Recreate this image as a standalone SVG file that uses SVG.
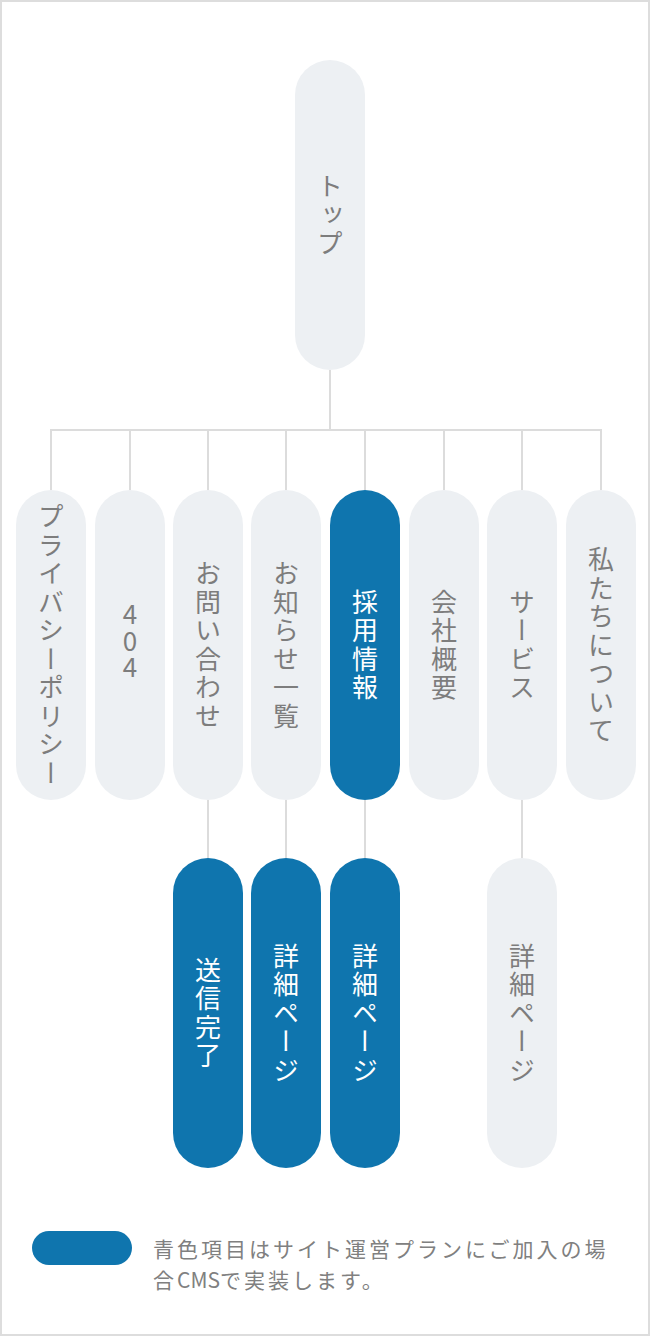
<svg xmlns="http://www.w3.org/2000/svg" width="650" height="1336" viewBox="0 0 650 1336">
<style>
.frame{fill:#fff;stroke:#dddddd;stroke-width:2}
.n{fill:#edf0f3}
.b{fill:#0f75ae}
.t{font-family:"Noto Sans CJK JP","Noto Sans",sans-serif;font-size:26px;letter-spacing:2.5px;writing-mode:vertical-rl;text-orientation:upright;text-anchor:middle;fill:#7d7d7d}
.tw{fill:#ffffff}
.c{stroke:#dcdcdc;stroke-width:2;fill:none}
.lg{font-family:"Noto Sans CJK JP","Noto Sans",sans-serif;font-size:21px;letter-spacing:3px;fill:#808080}
</style>
<rect class="frame" x="1" y="1" width="648" height="1334"/>
<g id="connectors">
<path class="c" d="M330 370V430M51 430H601M51 429V490M130 430V490M208 430V490M286 430V490M365 430V490M444 430V490M522 430V490M601 429V490"/>
<path class="c" d="M208 800V858M286 800V858M365 800V858M522 800V858"/>
</g>
<g id="top"><rect class="n" x="295" y="60" width="70" height="310" rx="35"/><text class="t" x="330" y="216">トップ</text></g>
<g id="privacy"><rect class="n" x="16" y="490" width="70" height="310" rx="35"/><text class="t" x="51" y="646">プライバシーポリシー</text></g>
<g id="p404"><rect class="n" x="95" y="490" width="70" height="310" rx="35"/><text class="t" x="130" y="641" style="letter-spacing:0.5px">404</text></g>
<g id="contact"><rect class="n" x="173" y="490" width="70" height="310" rx="35"/><text class="t" x="208" y="646">お問い合わせ</text></g>
<g id="news"><rect class="n" x="251" y="490" width="70" height="310" rx="35"/><text class="t" x="286" y="646">お知らせ一覧</text></g>
<g id="recruit"><rect class="b" x="330" y="490" width="70" height="310" rx="35"/><text class="t tw" x="365" y="646">採用情報</text></g>
<g id="company"><rect class="n" x="409" y="490" width="70" height="310" rx="35"/><text class="t" x="444" y="646">会社概要</text></g>
<g id="service"><rect class="n" x="487" y="490" width="70" height="310" rx="35"/><text class="t" x="522" y="646">サービス</text></g>
<g id="about"><rect class="n" x="566" y="490" width="70" height="310" rx="35"/><text class="t" x="601" y="646">私たちについて</text></g>
<g id="sent"><rect class="b" x="173" y="858" width="70" height="310" rx="35"/><text class="t tw" x="208" y="1014">送信完了</text></g>
<g id="news-detail"><rect class="b" x="251" y="858" width="70" height="310" rx="35"/><text class="t tw" x="286" y="1014">詳細ページ</text></g>
<g id="recruit-detail"><rect class="b" x="330" y="858" width="70" height="310" rx="35"/><text class="t tw" x="365" y="1014">詳細ページ</text></g>
<g id="service-detail"><rect class="n" x="487" y="858" width="70" height="310" rx="35"/><text class="t" x="522" y="1014">詳細ページ</text></g>
<g id="legend">
<rect class="b" x="32" y="1231" width="100" height="34" rx="17"/>
<text class="lg" x="153" y="1257">青色項目はサイト運営プランにご加入の場</text>
<text class="lg" x="153" y="1288">合<tspan letter-spacing="0">CMS</tspan>で実装します。</text>
</g>
</svg>
